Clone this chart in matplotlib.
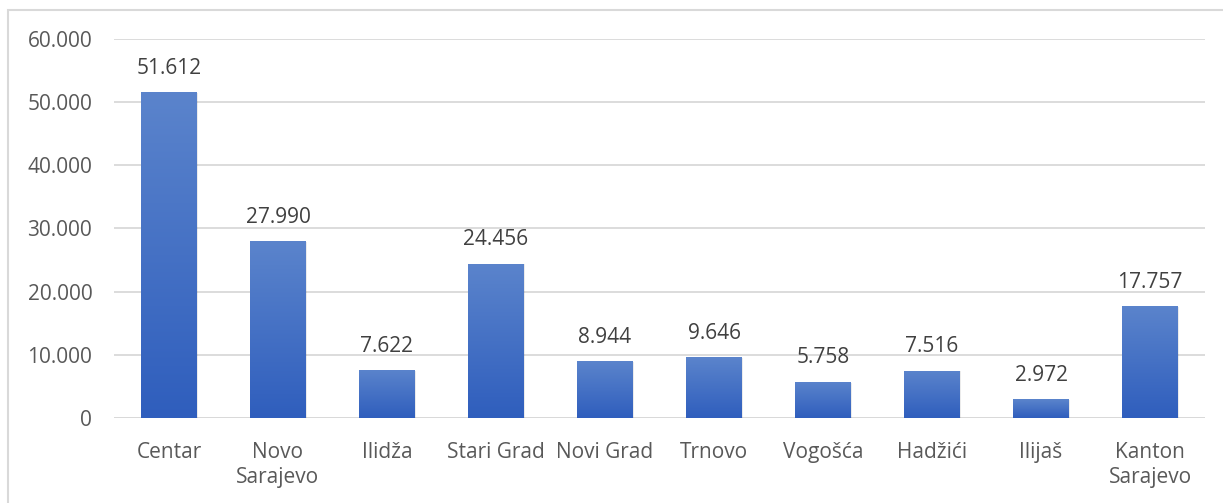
import matplotlib
matplotlib.use("Agg")
import matplotlib.pyplot as plt
import numpy as np
from matplotlib.colors import LinearSegmentedColormap
from matplotlib.patches import Rectangle
from matplotlib.ticker import FuncFormatter, MultipleLocator

categories = ["Centar", "Novo\nSarajevo", "Ilidža", "Stari Grad", "Novi Grad",
              "Trnovo", "Vogošća", "Hadžići", "Ilijaš", "Kanton\nSarajevo"]
values = [51612, 27990, 7622, 24456, 8944, 9646, 5758, 7516, 2972, 17757]

plt.rcParams["font.family"] = ["Open Sans", "DejaVu Sans"]


def thousands(v, _pos=None):
    return f"{int(round(v)):,}".replace(",", ".")


fig = plt.figure(figsize=(12.23, 5.03), dpi=100)
ax = fig.add_axes([0.0936, 0.169, 0.8913, 0.7535])

# outer chart border (only top/left visible in the source crop)
fig.patches.append(Rectangle((8 / 1223, -0.05), 1.2, 1 - 9.5 / 503 + 0.05,
                             transform=fig.transFigure, fill=False,
                             edgecolor="#d9d9d9", linewidth=1.5))

x = np.arange(len(categories))
bars = ax.bar(x, values, width=0.51, color="none", zorder=3)

# vertical gradient per bar, light at top to darker at bottom
cmap = LinearSegmentedColormap.from_list("bar", ["#2f5ebd", "#5b84cc"])
grad = np.linspace(0, 1, 256).reshape(-1, 1)
for b in bars:
    x0, y0 = b.get_x(), b.get_y()
    w, h = b.get_width(), b.get_height()
    # soft shadow
    ax.add_patch(Rectangle((x0 + 0.01, y0), w, h - 150, facecolor="#000000",
                           alpha=0.08, edgecolor="none", zorder=2))
    im = ax.imshow(grad, cmap=cmap, aspect="auto", origin="lower",
                   extent=(x0, x0 + w, y0, y0 + h), zorder=3)
    im.set_clip_path(b)
    ax.text(b.get_x() + w / 2, h + 2100, thousands(h), ha="center", va="bottom",
            fontsize=15, color="#404040", zorder=4)

ax.set_xlim(-0.5, len(categories) - 0.5)
ax.set_ylim(0, 60000)
ax.yaxis.set_major_locator(MultipleLocator(10000))
ax.yaxis.set_major_formatter(FuncFormatter(thousands))
ax.set_xticks(x)
ax.set_xticklabels(categories, fontsize=15, color="#595959", linespacing=1.3)
ax.tick_params(axis="y", labelsize=15, labelcolor="#595959", length=0, pad=16)
ax.tick_params(axis="x", length=0, pad=17)
ax.grid(axis="y", color="#d9d9d9", linewidth=1.3, zorder=0)
ax.set_axisbelow(True)
for s in ax.spines.values():
    s.set_visible(False)
ax.axhline(0, color="#d9d9d9", linewidth=1.3, zorder=1)

fig.savefig("out.png", dpi=100)
